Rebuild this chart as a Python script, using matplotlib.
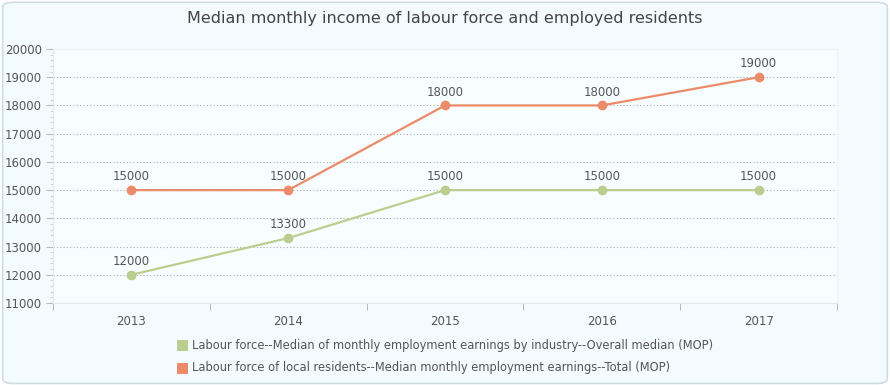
import matplotlib
matplotlib.use('Agg')
import matplotlib.pyplot as plt
from matplotlib.patches import FancyBboxPatch, Rectangle
from matplotlib.ticker import MultipleLocator, FixedLocator

years = ['2013', '2014', '2015', '2016', '2017']
labour_force = [12000, 13300, 15000, 15000, 15000]
local_residents = [15000, 15000, 18000, 18000, 19000]
series_names = [
    'Labour force--Median of monthly employment earnings by industry--Overall median (MOP)',
    'Labour force of local residents--Median monthly employment earnings--Total (MOP)',
]

BG = '#f4fbfe'
GREEN = '#bacf8f'
ORANGE = '#ec8b69'
TXT = '#555555'

plt.rcParams['font.family'] = ['DejaVu Sans']

fig = plt.figure(figsize=(8.9, 3.85), dpi=100)
fig.patch.set_facecolor('white')
fig.patches.append(FancyBboxPatch((0.003, 0.004), 0.994, 0.99,
                                  boxstyle='round,pad=0,rounding_size=0.012',
                                  transform=fig.transFigure, fc=BG, ec='#cfdde3', lw=1.2,
                                  zorder=-10))

ax = fig.add_axes([0.0596, 0.213, 0.8808, 0.6597])
ax.set_facecolor('#f8fdff')

x = list(range(len(years)))
ax.plot(x, labour_force, color=GREEN, lw=1.6, marker='o', ms=6, zorder=3)
ax.plot(x, local_residents, color=ORANGE, lw=1.6, marker='o', ms=6, zorder=3)
for xi, v in zip(x, labour_force):
    ax.annotate(f'{v}', (xi, v), xytext=(0, 5), textcoords='offset points',
                ha='center', va='bottom', fontsize=8.5, color=TXT)
for xi, v in zip(x, local_residents):
    ax.annotate(f'{v}', (xi, v), xytext=(0, 5), textcoords='offset points',
                ha='center', va='bottom', fontsize=8.5, color=TXT)

ax.set_xlim(-0.5, len(years) - 0.5)
ax.set_ylim(11000, 20000)
ax.yaxis.set_major_locator(MultipleLocator(1000))
ax.yaxis.set_minor_locator(MultipleLocator(200))
ax.xaxis.set_major_locator(FixedLocator(x))
ax.set_xticklabels(years)
ax.xaxis.set_minor_locator(FixedLocator([i - 0.5 for i in range(len(years) + 1)]))
ax.tick_params(axis='x', which='major', length=0, pad=9, labelsize=8.5, labelcolor=TXT)
ax.tick_params(axis='x', which='minor', length=5, color='#aaaaaa', direction='out')
ax.tick_params(axis='y', which='major', length=5, color='#bbbbbb', labelsize=8.5, labelcolor=TXT, pad=3)
ax.tick_params(axis='y', which='minor', length=2, color='#cccccc')
ax.grid(axis='y', which='major', linestyle=(0, (1, 2)), color='#aaaaaa', lw=0.8)
for s in ['top', 'right']:
    ax.spines[s].set_color('#eef3f5')
for s in ['left', 'bottom']:
    ax.spines[s].set_color('#e3e9ec')

fig.text(0.5, 0.952, 'Median monthly income of labour force and employed residents',
         ha='center', va='center', fontsize=11.5, color='#444444')

# legend
for i, (name, c) in enumerate(zip(series_names, [GREEN, ORANGE])):
    yy = 1 - (345 + i * 23) / 385
    fig.patches.append(Rectangle((177 / 890, yy - 5.5 / 385), 11 / 890, 11 / 385,
                                 transform=fig.transFigure, fc=c, ec='none'))
    fig.text(192 / 890, yy, name, ha='left', va='center', fontsize=8.3, color=TXT)

plt.savefig('out.png', dpi=100, facecolor='white')
